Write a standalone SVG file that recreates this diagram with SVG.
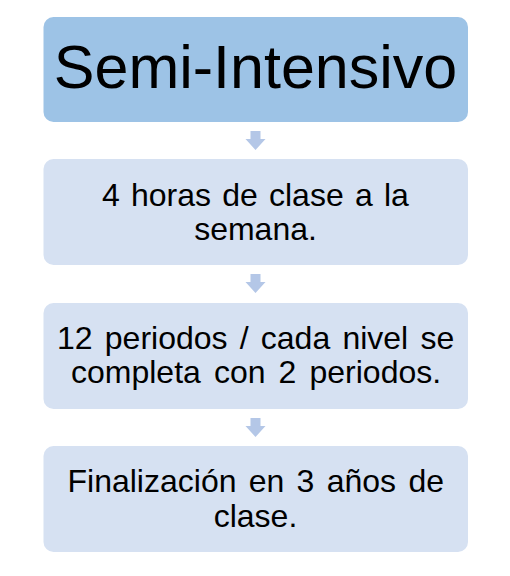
<svg xmlns="http://www.w3.org/2000/svg" width="510" height="576" viewBox="0 0 510 576">
<style>
.box{fill:#D6E1F2;}
.top{fill:#9DC3E6;}
.t{font-family:"Liberation Sans",Arial,sans-serif;font-size:32px;fill:#000;}
.big{font-family:"Liberation Sans",Arial,sans-serif;font-size:61px;fill:#000;text-anchor:middle;}
.c{text-anchor:middle;}
.arrow{fill:#B4C7E7;}
</style>
<rect width="510" height="576" fill="#ffffff"/>
<g id="connectors">
<path class="arrow" d="M250.5,131 H260.5 V139 H265.5 L255.5,150 L245.5,139 H250.5 Z"/>
<path class="arrow" d="M250.5,274 H260.5 V282 H265.5 L255.5,293 L245.5,282 H250.5 Z"/>
<path class="arrow" d="M250.5,418 H260.5 V426 H265.5 L255.5,437 L245.5,426 H250.5 Z"/>
</g>
<g id="node1">
<rect class="top" x="43.5" y="17" width="424.5" height="105" rx="10"/>
<text class="big" x="255.5" y="88">Semi-Intensivo</text>
</g>
<g id="node2">
<rect class="box" x="43.5" y="159" width="424.5" height="106" rx="10"/>
<text class="t" y="206"><tspan x="102">4</tspan><tspan x="131">horas</tspan><tspan x="222.2">de</tspan><tspan x="269">clase</tspan><tspan x="354.9">a</tspan><tspan x="383.9">la</tspan></text>
<text class="t c" x="255.5" y="240">semana.</text>
</g>
<g id="node3">
<rect class="box" x="43.5" y="303" width="424.5" height="106" rx="10"/>
<text class="t" y="349"><tspan x="57">12</tspan><tspan x="104.8">periodos</tspan><tspan x="239.7">/</tspan><tspan x="260.8">cada</tspan><tspan x="342.4">nivel</tspan><tspan x="420.4">se</tspan></text>
<text class="t" y="383"><tspan x="71">completa</tspan><tspan x="213.9">con</tspan><tspan x="278.6">2</tspan><tspan x="309.5">periodos.</tspan></text>
</g>
<g id="node4">
<rect class="box" x="43.5" y="446" width="424.5" height="106" rx="10"/>
<text class="t" y="492"><tspan x="67.5">Finalización</tspan><tspan x="248.7">en</tspan><tspan x="296.6">3</tspan><tspan x="326.7">años</tspan><tspan x="408.4">de</tspan></text>
<text class="t c" x="255.5" y="527">clase.</text>
</g>
</svg>
